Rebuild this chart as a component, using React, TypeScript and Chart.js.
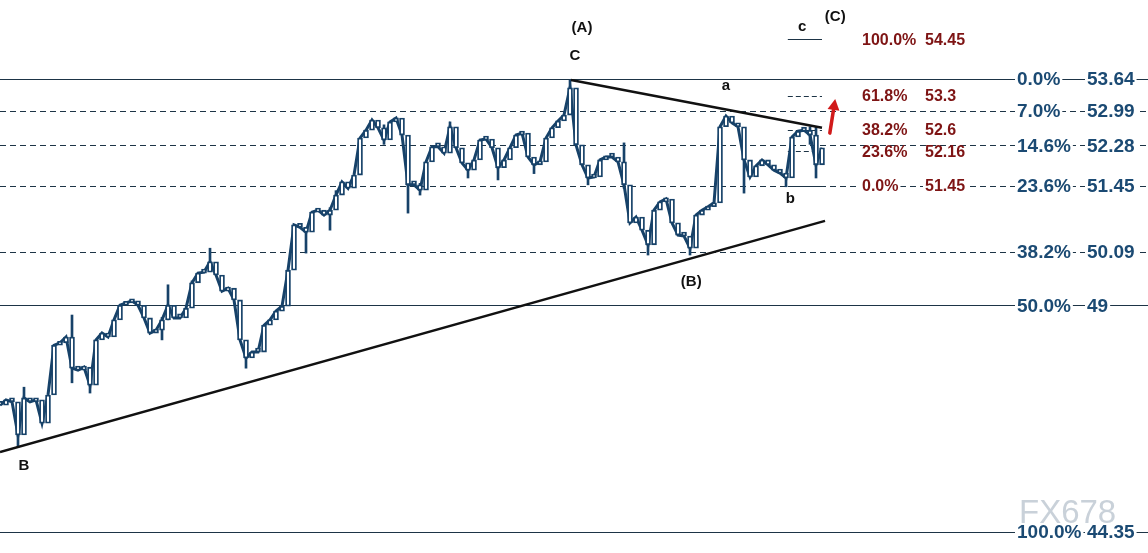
import React, { useEffect, useRef } from "react";
import { Chart, registerables } from "chart.js";

Chart.register(...registerables);

// ---- price series (closes, one bar every step) ----
const closes: number[] = [
  46.95, 47.06, 47.02, 46.34, 47.10, 47.02, 47.06, 46.58, 47.16, 48.18,
  48.23, 48.35, 47.71, 47.67, 47.73, 47.36, 48.29, 48.43, 48.35, 48.70,
  49.00, 49.05, 49.09, 49.00, 48.74, 48.43, 48.49, 48.70, 49.00, 48.74,
  48.74, 48.94, 49.46, 49.66, 49.68, 49.89, 49.62, 49.29, 49.35, 49.11,
  48.29, 47.92, 48.04, 48.04, 48.59, 48.70, 48.88, 48.98, 49.72, 50.65,
  50.60, 50.50, 50.91, 50.95, 50.85, 50.95, 51.26, 51.53, 51.40, 51.67,
  52.43, 52.59, 52.80, 52.64, 52.39, 52.76, 52.84, 52.49, 51.47, 51.47,
  51.36, 51.94, 52.25, 52.25, 52.12, 52.66, 52.23, 51.92, 51.77, 51.98,
  52.39, 52.41, 52.23, 51.82, 51.98, 52.23, 52.49, 52.53, 52.04, 51.88,
  51.94, 52.43, 52.64, 52.78, 52.90, 53.46, 52.29, 51.88, 51.61, 51.63,
  51.98, 52.04, 52.04, 51.94, 51.47, 50.69, 50.81, 50.54, 50.24, 50.95,
  51.12, 51.18, 50.69, 50.44, 50.42, 50.17, 50.85, 50.95, 51.02, 51.10,
  52.66, 52.88, 52.74, 52.66, 51.98, 51.63, 51.86, 51.98, 51.88, 51.77,
  51.71, 51.61, 52.45, 52.57, 52.59, 52.49, 51.88, 52.23,
];
const firstOpen = 47.02;

// notable wicks: bar index, low, high
const wickIdx: number[] = [3, 4, 12, 15, 27, 28, 32, 35, 41, 51, 55, 56, 64, 68, 70, 75, 78, 83, 89, 95, 98, 104, 108, 115, 124, 131, 135, 136];
const wickLow: number[] = [46.09, 46.95, 47.41, 47.2, 48.29, 48.7, 49.3, 49.8, 47.71, 50.07, 50.54, 51.15, 52.3, 50.89, 51.26, 52.4, 51.61, 51.57, 51.7, 53.3, 51.47, 51.4, 50.03, 50.03, 51.3, 51.43, 52.3, 51.61];
const wickHigh: number[] = [46.75, 47.32, 48.8, 47.5, 48.75, 49.42, 49.5, 50.17, 48.0, 50.6, 51.0, 51.35, 52.7, 51.6, 51.5, 52.76, 51.9, 51.95, 52.0, 53.62, 51.75, 52.33, 50.3, 50.2, 52.1, 51.7, 52.66, 52.66];

// ---- trend lines ----
const lowerTrendX: number[] = [0, 137.5];
const lowerTrendY: number[] = [45.99, 50.73];
const upperTrendX: number[] = [95.17, 137];
const upperTrendY: number[] = [53.62, 52.64];

// ---- fibonacci levels (right, blue) ----
const blueLevels: number[] = [53.64, 52.99, 52.28, 51.45, 50.09, 49, 44.35];
const bluePcts: string[] = ["0.0%", "7.0%", "14.6%", "23.6%", "38.2%", "50.0%", "100.0%"];
const blueValues: string[] = ["53.64", "52.99", "52.28", "51.45", "50.09", "49", "44.35"];
const blueDashed: boolean[] = [false, true, true, true, true, false, false];

// ---- fibonacci extension (red) ----
const redLevels: number[] = [54.45, 53.3, 52.6, 52.16, 51.45];
const redPcts: string[] = ["100.0%", "61.8%", "38.2%", "23.6%", "0.0%"];
const redValues: string[] = ["54.45", "53.3", "52.6", "52.16", "51.45"];
const redDashed: boolean[] = [false, true, true, true, false];
const redLineFrom = 131.3;
const redLineTo = 137;

// ---- wave labels ----
const waveText: string[] = ["(A)", "C", "a", "c", "(C)", "b", "(B)", "B"];
const waveX: number[] = [97, 95.8, 121, 133.7, 139.2, 131.7, 115.2, 4];
const waveY: number[] = [54.69, 54.11, 53.5, 54.71, 54.91, 51.18, 49.48, 45.7];

// arrow
const arrowX: number[] = [138.3, 139.2];
const arrowY: number[] = [52.53, 53.23];

const Y_MIN = 43.92;
const Y_MAX = 55.26;
const X_MIN = 0;
const X_MAX = 191.33;

const BLUE = "#1b4a73";
const CANDLE = "#174269";
const LINE = "#1d3446";
const RED = "#7e1414";
const FONT = '"Liberation Sans", Arial, sans-serif';

const fibPlugin = {
  id: "fib",
  beforeDatasetsDraw(chart: any) {
    const { ctx, scales } = chart;
    const x = scales.x;
    const y = scales.y;
    ctx.save();
    ctx.strokeStyle = LINE;
    ctx.lineWidth = 1;
    blueLevels.forEach((v, i) => {
      const py = Math.round(y.getPixelForValue(v)) + 0.5;
      ctx.setLineDash(blueDashed[i] ? [6, 4] : []);
      ctx.beginPath();
      ctx.moveTo(0, py);
      ctx.lineTo(chart.width, py);
      ctx.stroke();
    });
    const x0 = x.getPixelForValue(redLineFrom);
    const x1 = x.getPixelForValue(redLineTo);
    redLevels.forEach((v, i) => {
      const py = Math.round(y.getPixelForValue(v)) + 0.5;
      ctx.setLineDash(redDashed[i] ? [5, 3] : []);
      if (!redDashed[i]) {
        ctx.fillStyle = "#fff";
        ctx.fillRect(x0, py - 1.5, x1 - x0, 3);
      }
      ctx.beginPath();
      ctx.moveTo(x0, py);
      ctx.lineTo(x1, py);
      ctx.stroke();
    });
    ctx.restore();
  },
  afterDatasetsDraw(chart: any) {
    const { ctx, scales } = chart;
    const x = scales.x;
    const y = scales.y;
    ctx.save();
    ctx.textBaseline = "middle";
    ctx.textAlign = "left";

    // watermark (behind labels)
    ctx.globalAlpha = 0.8;
    ctx.font = `33px ${FONT}`;
    ctx.fillStyle = "#bcc6d0";
    ctx.fillText("FX678", 1019, 514);
    ctx.globalAlpha = 1;

    const drawBoxed = (t: string, px: number, py: number, color: string, bg: boolean) => {
      const w = ctx.measureText(t).width;
      if (bg) {
        ctx.fillStyle = "#fff";
        ctx.fillRect(px - 2, py - 2, w + 4, 4);
      }
      ctx.fillStyle = color;
      ctx.fillText(t, px, py + 1);
      return w;
    };

    // blue labels
    ctx.font = `bold 19px ${FONT}`;
    blueLevels.forEach((v, i) => {
      const py = y.getPixelForValue(v);
      const w = drawBoxed(bluePcts[i], 1017, py, BLUE, true);
      const vx = Math.max(1087, 1017 + w + 5);
      drawBoxed(blueValues[i], vx, py, BLUE, true);
    });

    // red labels
    ctx.font = `bold 16px ${FONT}`;
    redLevels.forEach((v, i) => {
      const py = y.getPixelForValue(v);
      drawBoxed(redPcts[i], 862, py, RED, true);
      drawBoxed(redValues[i], 925, py, RED, true);
    });

    // wave labels
    ctx.font = `bold 15px ${FONT}`;
    ctx.textAlign = "center";
    ctx.fillStyle = "#111";
    waveText.forEach((t, i) => {
      ctx.fillText(t, x.getPixelForValue(waveX[i]), y.getPixelForValue(waveY[i]));
    });

    // red arrow
    const ax0 = x.getPixelForValue(arrowX[0]);
    const ay0 = y.getPixelForValue(arrowY[0]);
    const ax1 = x.getPixelForValue(arrowX[1]);
    const ay1 = y.getPixelForValue(arrowY[1]);
    const ang = Math.atan2(ay1 - ay0, ax1 - ax0);
    ctx.strokeStyle = "#d11a1a";
    ctx.fillStyle = "#d11a1a";
    ctx.lineWidth = 3.5;
    ctx.lineCap = "round";
    ctx.beginPath();
    ctx.moveTo(ax0, ay0);
    ctx.lineTo(ax1 - 8 * Math.cos(ang), ay1 - 8 * Math.sin(ang));
    ctx.stroke();
    ctx.beginPath();
    ctx.moveTo(ax1, ay1);
    ctx.lineTo(ax1 - 11 * Math.cos(ang) + 6 * Math.sin(ang), ay1 - 11 * Math.sin(ang) - 6 * Math.cos(ang));
    ctx.lineTo(ax1 - 11 * Math.cos(ang) - 6 * Math.sin(ang), ay1 - 11 * Math.sin(ang) + 6 * Math.cos(ang));
    ctx.closePath();
    ctx.fill();
    ctx.restore();
  },
};

export default function App() {
  const ref = useRef<HTMLCanvasElement | null>(null);
  useEffect(() => {
    document.body.style.margin = "0";
    const canvas = ref.current;
    if (!canvas) return;
    const candles = closes.map((c, i) => ({ x: i, y: [i === 0 ? firstOpen : closes[i - 1], c] }));
    const closeLine = closes.map((c, i) => ({ x: i, y: c }));
    const wicks = wickIdx.map((idx, k) => ({ x: idx, y: [wickLow[k], wickHigh[k]] }));
    const lower = lowerTrendX.map((v, i) => ({ x: v, y: lowerTrendY[i] }));
    const upper = upperTrendX.map((v, i) => ({ x: v, y: upperTrendY[i] }));
    const chart = new Chart(canvas, {
      type: "bar",
      data: {
        datasets: [
          {
            type: "line",
            data: lower,
            borderColor: "#111",
            borderWidth: 2.5,
            pointRadius: 0,
            order: 0,
          } as any,
          {
            type: "line",
            data: upper,
            borderColor: "#111",
            borderWidth: 2.5,
            pointRadius: 0,
            order: 0,
          } as any,
          {
            type: "line",
            data: closeLine,
            borderColor: CANDLE,
            borderWidth: 3,
            pointRadius: 0,
            order: 3,
          } as any,
          {
            type: "bar",
            data: wicks as any,
            backgroundColor: CANDLE,
            borderWidth: 0,
            barThickness: 2,
            grouped: false,
            order: 2,
          } as any,
          {
            type: "bar",
            data: candles as any,
            backgroundColor: "#ffffff",
            borderColor: CANDLE,
            borderWidth: 1.8,
            borderSkipped: false,
            barThickness: 5,
            grouped: false,
            minBarLength: 4,
            order: 1,
          } as any,
        ],
      },
      options: {
        animation: false,
        responsive: false,
        devicePixelRatio: 1,
        layout: { padding: 0 },
        plugins: { legend: { display: false }, tooltip: { enabled: false } },
        scales: {
          x: { type: "linear", min: X_MIN, max: X_MAX, display: false, offset: false, grid: { offset: false } },
          y: { type: "linear", min: Y_MIN, max: Y_MAX, display: false },
        },
      },
      plugins: [fibPlugin],
    });
    return () => chart.destroy();
  }, []);
  return (
    <div style={{ position: "absolute", left: 0, top: 0, width: 1148, height: 553, background: "#fff" }}>
      <canvas ref={ref} width={1148} height={553} />
    </div>
  );
}
